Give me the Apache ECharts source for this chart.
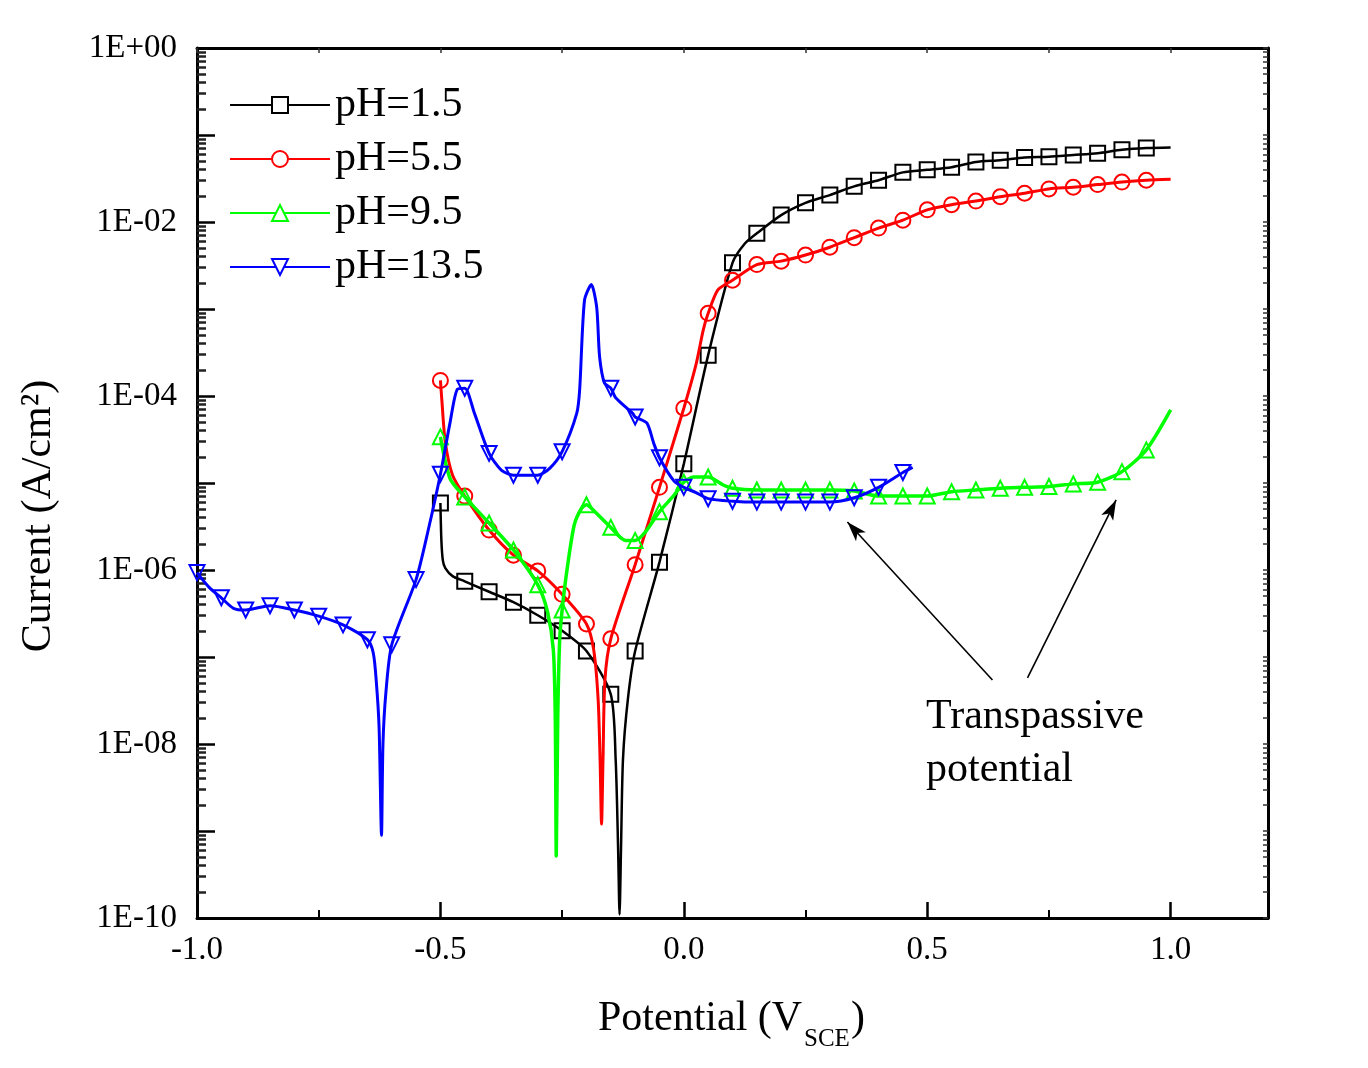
<!DOCTYPE html>
<html>
<head>
<meta charset="utf-8">
<script src="https://cdn.jsdelivr.net/npm/echarts@6/dist/echarts.min.js"></script>
<style>
html,body{margin:0;padding:0;background:#fff;}
#chart{width:1368px;height:1068px;}
</style>
</head>
<body>
<div id="chart"></div>
<script>
// ---- Data (potential in V vs SCE, current density in A/cm2) ----
const seriesNames = ['pH=1.5', 'pH=5.5', 'pH=9.5', 'pH=13.5'];

const ph15V = [-0.50,-0.498,-0.495,-0.49,-0.475,-0.45,-0.40,-0.35,-0.30,-0.25,-0.20,-0.15,-0.14,-0.135,-0.132,-0.129,-0.125,-0.115,-0.10,-0.05,0.00,0.05,0.10,0.125,0.15,0.20,0.25,0.30,0.35,0.40,0.45,0.50,0.55,0.60,0.65,0.70,0.75,0.80,0.85,0.90,0.95,1.00];
const ph15I = [5.89e-6,2.19e-6,1.29e-6,1.05e-6,8.51e-7,7.41e-7,5.62e-7,4.27e-7,3.02e-7,2.0e-7,1.17e-7,3.72e-8,6.61e-9,6.3e-10,1.1e-10,6.3e-10,6.61e-9,3.24e-8,1.17e-7,1.23e-6,1.66e-5,2.95e-4,3.39e-3,5.62e-3,7.41e-3,1.20e-2,1.66e-2,2.04e-2,2.57e-2,3.02e-2,3.72e-2,3.98e-2,4.27e-2,4.90e-2,5.13e-2,5.50e-2,5.62e-2,5.89e-2,6.17e-2,6.76e-2,7.08e-2,7.2e-2];

const ph55V = [-0.50,-0.497,-0.49,-0.475,-0.45,-0.40,-0.35,-0.30,-0.25,-0.20,-0.185,-0.176,-0.172,-0.169,-0.166,-0.162,-0.15,-0.10,-0.05,0.00,0.025,0.04,0.05,0.07,0.10,0.15,0.20,0.25,0.30,0.35,0.40,0.45,0.50,0.55,0.60,0.65,0.70,0.75,0.80,0.85,0.90,0.95,1.00];
const ph55I = [1.51e-4,8.91e-5,2.95e-5,1.23e-5,7.08e-6,2.88e-6,1.48e-6,9.77e-7,5.25e-7,2.40e-7,1.20e-7,3.24e-8,6.61e-9,1.20e-9,6.61e-9,5.50e-8,1.62e-7,1.15e-6,8.91e-6,7.24e-5,2.29e-4,5.75e-4,8.91e-4,1.66e-3,2.14e-3,3.24e-3,3.55e-3,4.17e-3,5.13e-3,6.61e-3,8.51e-3,1.05e-2,1.38e-2,1.58e-2,1.74e-2,1.95e-2,2.14e-2,2.40e-2,2.51e-2,2.69e-2,2.88e-2,3.02e-2,3.09e-2];

const ph95V = [-0.50,-0.48,-0.45,-0.40,-0.35,-0.30,-0.28,-0.268,-0.264,-0.262,-0.259,-0.255,-0.25,-0.24,-0.225,-0.21,-0.20,-0.19,-0.15,-0.12,-0.10,-0.08,-0.05,-0.02,0.00,0.02,0.05,0.08,0.10,0.15,0.20,0.25,0.30,0.35,0.40,0.45,0.50,0.55,0.60,0.65,0.70,0.75,0.80,0.85,0.90,0.95,1.00];
const ph95I = [3.39e-5,1.12e-5,6.92e-6,3.47e-6,1.70e-6,6.76e-7,3.31e-7,1.20e-7,1.91e-8,5.13e-10,1.91e-8,1.58e-7,3.47e-7,1.0e-6,3.31e-6,5.13e-6,5.62e-6,5.13e-6,3.09e-6,2.19e-6,2.19e-6,2.69e-6,4.68e-6,7.24e-6,1.02e-5,1.17e-5,1.17e-5,9.55e-6,8.71e-6,8.32e-6,8.32e-6,8.32e-6,8.32e-6,8.1e-6,7.08e-6,7.08e-6,7.08e-6,7.94e-6,8.32e-6,8.71e-6,8.91e-6,9.12e-6,9.77e-6,1.02e-5,1.35e-5,2.40e-5,6.92e-5];

const ph135V = [-1.00,-0.975,-0.95,-0.925,-0.90,-0.85,-0.80,-0.75,-0.70,-0.65,-0.638,-0.632,-0.626,-0.621,-0.618,-0.612,-0.60,-0.55,-0.525,-0.50,-0.48,-0.465,-0.45,-0.43,-0.40,-0.375,-0.35,-0.30,-0.275,-0.25,-0.22,-0.214,-0.204,-0.19,-0.179,-0.173,-0.163,-0.15,-0.14,-0.105,-0.10,-0.076,-0.062,-0.05,-0.02,0.00,0.025,0.05,0.10,0.15,0.20,0.25,0.30,0.35,0.40,0.45,0.47];
const ph135I = [9.33e-7,6.31e-7,4.79e-7,3.63e-7,3.47e-7,3.89e-7,3.47e-7,2.95e-7,2.34e-7,1.58e-7,1.12e-7,5.50e-8,1.58e-8,8.91e-10,1.0e-8,3.89e-8,1.38e-7,7.76e-7,2.88e-6,1.26e-5,5.01e-5,1.20e-4,1.23e-4,6.31e-5,2.19e-5,1.41e-5,1.23e-5,1.23e-5,1.48e-5,2.29e-5,6.31e-5,1.17e-4,1.26e-3,1.91e-3,1.05e-3,2.82e-4,1.41e-4,1.23e-4,9.55e-5,6.31e-5,5.75e-5,4.9e-5,2.88e-5,1.95e-5,1.05e-5,8.91e-6,7.76e-6,6.61e-6,6.17e-6,6.03e-6,6.03e-6,6.03e-6,6.03e-6,6.76e-6,8.91e-6,1.32e-5,1.51e-5];

// Arrow annotations (tail -> head), data coordinates
const arrowTail = [[0.634, 5.44e-8], [0.706, 5.74e-8]];
const arrowHead = [[0.336, 3.56e-6], [0.888, 6.38e-6]];

// Tick labels
const xLabelValues = [-1.0, -0.5, 0.0, 0.5, 1.0];
const xMinorValues = [-0.75, -0.25, 0.25, 0.75];
const yLabelExponents = [-10, -8, -6, -4, -2, 0];

const colors = ['#000000', '#ff0000', '#00ff00', '#0000ff'];
const lineWidths = [2.5, 3, 3.5, 3];
const symbols = ['rect', 'circle', 'triangle', 'path://M0,0L10,0L5,9Z'];
const FONT = '"Liberation Serif", "Times New Roman", serif';

function build(V, I) {
  return V.map((v, i) => {
    const isMarker = Math.abs(v * 20 - Math.round(v * 20)) < 1e-6 && v < 0.99;
    return isMarker ? [v, I[i]] : { value: [v, I[i]], symbol: 'none' };
  });
}
const allV = [ph15V, ph55V, ph95V, ph135V];
const allI = [ph15I, ph55I, ph95I, ph135I];

// decoration tick positions on exponent overlay axes
const leftMinor = [], rightTicks = [];
for (let n = -10; n < 0; n++) {
  for (let k = 1; k <= 9; k++) {
    const p = n + Math.log10(k);
    rightTicks.push(p);
    if (k > 1) leftMinor.push(p);
  }
}
rightTicks.push(0);

const expLabel = v => {
  const e = Math.round(v);
  return '1E' + (e >= 0 ? '+' : '-') + String(Math.abs(e)).padStart(2, '0');
};

const series = seriesNames.map((name, s) => ({
  name: name,
  type: 'line',
  xAxisIndex: 0,
  yAxisIndex: 0,
  data: build(allV[s], allI[s]),
  smooth: 0.25,
  symbol: symbols[s],
  symbolSize: 15,
  showSymbol: true,
  showAllSymbol: true,
  lineStyle: { color: colors[s], width: lineWidths[s] },
  itemStyle: { color: 'rgba(255,255,255,0)', borderColor: colors[s], borderWidth: 2 },
  emphasis: { disabled: true },
  z: 3 + s
}));

series.push({
  name: 'annotation',
  type: 'line',
  xAxisIndex: 0,
  yAxisIndex: 0,
  data: [],
  markLine: {
    silent: true,
    animation: false,
    symbol: ['none', 'arrow'],
    symbolSize: [10, 20],
    label: { show: false },
    lineStyle: { color: '#000', width: 1.6, type: 'solid' },
    data: arrowTail.map((t, i) => [{ coord: t }, { coord: arrowHead[i] }])
  }
});

const chart = echarts.init(document.getElementById('chart'), null, { renderer: 'canvas' });
chart.setOption({
  animation: false,
  backgroundColor: '#ffffff',
  grid: { left: 197, top: 48, right: 100, bottom: 150, containLabel: false, outerBoundsMode: 'none' },
  legend: {
    orient: 'vertical',
    left: 229,
    top: 83,
    padding: 0,
    itemWidth: 100,
    itemHeight: 20,
    itemGap: 10,
    textStyle: { fontFamily: FONT, fontSize: 42, color: '#000', lineHeight: 44 },
    data: seriesNames.map(n => ({ name: n, itemStyle: { color: '#ffffff' } })),
    selectedMode: false
  },
  xAxis: [
    {
      type: 'value', position: 'bottom', min: -1.0, max: 1.2,
      axisLine: { show: true, onZero: false, lineStyle: { color: '#000', width: 3 } },
      axisTick: { show: true, inside: true, length: 16, lineStyle: { color: '#000', width: 2.5 }, customValues: xLabelValues },
      axisLabel: { customValues: xLabelValues, formatter: v => v.toFixed(1), fontFamily: FONT, fontSize: 33, color: '#000', margin: 16 },
      splitLine: { show: false }
    },
    {
      type: 'value', position: 'bottom', min: -1.0, max: 1.2,
      axisLine: { show: false, onZero: false },
      axisTick: { show: true, inside: true, length: 8, lineStyle: { color: '#000', width: 2 }, customValues: xMinorValues },
      axisLabel: { show: false },
      splitLine: { show: false }
    },
    {
      type: 'value', position: 'top', min: -1.0, max: 1.2,
      axisLine: { show: true, onZero: false, lineStyle: { color: '#000', width: 3 } },
      axisTick: { show: true, inside: true, length: 5, lineStyle: { color: '#333', width: 1.5 }, customValues: xMinorValues.concat(xLabelValues) },
      axisLabel: { show: false },
      splitLine: { show: false }
    }
  ],
  yAxis: [
    {
      type: 'log', logBase: 10, min: 1e-10, max: 1, position: 'left',
      axisLine: { show: true, onZero: false, lineStyle: { color: '#000', width: 3 } },
      axisTick: { show: false },
      axisLabel: { show: false },
      splitLine: { show: false }
    },
    {
      type: 'value', min: -10, max: 0, interval: 1, position: 'left',
      axisLine: { show: false, onZero: false },
      axisTick: { show: true, inside: true, length: 18, lineStyle: { color: '#000', width: 2.5 } },
      axisLabel: { customValues: yLabelExponents, formatter: expLabel, fontFamily: FONT, fontSize: 33, color: '#000', margin: 20 },
      splitLine: { show: false }
    },
    {
      type: 'value', min: -10, max: 0, position: 'left',
      axisLine: { show: false, onZero: false },
      axisTick: { show: true, inside: true, length: 9, lineStyle: { color: '#222', width: 2.5 }, customValues: leftMinor },
      axisLabel: { show: false },
      splitLine: { show: false }
    },
    {
      type: 'value', min: -10, max: 0, position: 'right',
      axisLine: { show: true, onZero: false, lineStyle: { color: '#000', width: 3 } },
      axisTick: { show: true, inside: true, length: 5, lineStyle: { color: '#333', width: 1.5 }, customValues: rightTicks },
      axisLabel: { show: false },
      splitLine: { show: false }
    }
  ],
  graphic: [
    {
      type: 'text', left: 926, top: 690, silent: true,
      style: { text: 'Transpassive\npotential', font: '42px ' + FONT, lineHeight: 53, fill: '#000' }
    },
    {
      type: 'text', x: 39, y: 516, rotation: Math.PI / 2, silent: true,
      style: { text: 'Current (A/cm²)', font: '42px ' + FONT, fill: '#000', align: 'center', verticalAlign: 'middle' }
    },
    {
      type: 'text', x: 598, y: 1019, silent: true,
      style: { text: 'Potential (V', font: '42px ' + FONT, fill: '#000', align: 'left', verticalAlign: 'middle' }
    },
    {
      type: 'text', x: 804, y: 1039, silent: true,
      style: { text: 'SCE', font: '25px ' + FONT, fill: '#000', align: 'left', verticalAlign: 'middle' }
    },
    {
      type: 'text', x: 851, y: 1019, silent: true,
      style: { text: ')', font: '42px ' + FONT, fill: '#000', align: 'left', verticalAlign: 'middle' }
    }
  ],
  series: series
});
</script>
</body>
</html>
